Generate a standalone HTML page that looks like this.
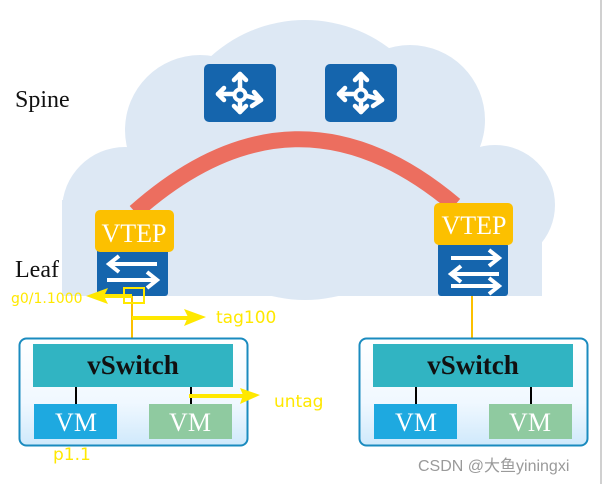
<!DOCTYPE html>
<html><head><meta charset="utf-8"><style>
html,body{margin:0;padding:0;background:#fff;}
svg{display:block}
.s{font-family:"Liberation Serif",serif}
.y{font-family:"DejaVu Sans","Liberation Sans",sans-serif;fill:#ffe800}
</style></head><body>
<svg width="609" height="484" viewBox="0 0 609 484" xmlns="http://www.w3.org/2000/svg">
<defs>
<linearGradient id="g" x1="0" y1="0" x2="0" y2="1"><stop offset="0" stop-color="#ffffff"/><stop offset="0.6" stop-color="#f0f8ff"/><stop offset="1" stop-color="#cfe9fb"/></linearGradient>
<g id="router"><rect x="0" y="0" width="72" height="58" rx="5" fill="#1565ad"/>
<g stroke="#fff" stroke-width="4.5" fill="none" stroke-linecap="round" stroke-linejoin="round">
<path d="M36 10 V48"/><polyline points="30,16 36,10 42,16"/><polyline points="30,42 36,48 42,42"/>
<path d="M14 30 H36"/><polyline points="20,24 14,30 20,36"/>
<path d="M36 30 L57 36"/><polyline points="50,28 57,36 48,42"/>
</g><circle cx="36" cy="31" r="5.5" fill="#1565ad" stroke="#fff" stroke-width="4"/></g>
<g id="sw"><g stroke="#fff" stroke-width="4" fill="none"><path d="M10 12 H58 M48 4 l10 8 -10 8 M10 28 H58 M20 20 l-10 8 10 8 M10 40 H58 M48 32 l10 8 -10 8"/></g></g>
</defs>
<g fill="#dde8f4">
<circle cx="305" cy="160" r="140"/>
<circle cx="200" cy="130" r="75"/>
<circle cx="410" cy="120" r="75"/>
<circle cx="125" cy="210" r="63"/>
<circle cx="495" cy="205" r="60"/>
<rect x="62" y="200" width="480" height="96"/>
</g>
<path d="M135 212 Q295 70 455 205" fill="none" stroke="#ec6e5f" stroke-width="16"/>
<use href="#router" x="204" y="64"/>
<use href="#router" x="325" y="64"/>
<text x="15" y="107" class="s" font-size="24" fill="#111">Spine</text>
<text x="15" y="277" class="s" font-size="24" fill="#111">Leaf</text>
<rect x="97" y="248" width="71" height="48" rx="3" fill="#1565ad"/>
<g transform="translate(99,252)"><g stroke="#fff" stroke-width="4" fill="none"><path d="M10 12 H58 M20 4 l-10 8 10 8 M8 28 H58 M48 20 l10 8 -10 8"/></g></g>
<rect x="95" y="210" width="79" height="42" rx="5" fill="#fcc000"/>
<text x="134" y="242" class="s" font-size="26" fill="#fff" text-anchor="middle">VTEP</text>
<rect x="438" y="243" width="70" height="53" rx="3" fill="#1565ad"/>
<g transform="translate(441,246)"><use href="#sw"/></g>
<rect x="434" y="203" width="79" height="42" rx="5" fill="#fcc000"/>
<text x="474" y="234" class="s" font-size="26" fill="#fff" text-anchor="middle">VTEP</text>
<line x1="132" y1="296" x2="132" y2="338" stroke="#fcc000" stroke-width="2"/>
<line x1="472" y1="296" x2="472" y2="338" stroke="#fcc000" stroke-width="2"/>
<rect x="19.5" y="338.5" width="228" height="107" rx="7" fill="url(#g)" stroke="#1a8bbf" stroke-width="2"/>
<rect x="33" y="344" width="200" height="43" fill="#31b4c2"/>
<text x="133" y="374" class="s" font-size="27" font-weight="bold" fill="#111" text-anchor="middle">vSwitch</text>
<line x1="76" y1="387" x2="76" y2="404" stroke="#000" stroke-width="2"/>
<line x1="191" y1="387" x2="191" y2="404" stroke="#000" stroke-width="2"/>
<rect x="34" y="404" width="83" height="35" fill="#1ea9e0"/>
<rect x="149" y="404" width="83" height="35" fill="#8fcaa0"/>
<text x="76" y="431" class="s" font-size="26" fill="#fff" text-anchor="middle">VM</text>
<text x="190" y="431" class="s" font-size="26" fill="#fff" text-anchor="middle">VM</text>
<rect x="359.5" y="338.5" width="228" height="107" rx="7" fill="url(#g)" stroke="#1a8bbf" stroke-width="2"/>
<rect x="373" y="344" width="200" height="43" fill="#31b4c2"/>
<text x="473" y="374" class="s" font-size="27" font-weight="bold" fill="#111" text-anchor="middle">vSwitch</text>
<line x1="416" y1="387" x2="416" y2="404" stroke="#000" stroke-width="2"/>
<line x1="531" y1="387" x2="531" y2="404" stroke="#000" stroke-width="2"/>
<rect x="374" y="404" width="83" height="35" fill="#1ea9e0"/>
<rect x="489" y="404" width="83" height="35" fill="#8fcaa0"/>
<text x="416" y="431" class="s" font-size="26" fill="#fff" text-anchor="middle">VM</text>
<text x="530" y="431" class="s" font-size="26" fill="#fff" text-anchor="middle">VM</text>
<rect x="124" y="288" width="20" height="15" fill="none" stroke="#ffe800" stroke-width="2"/>
<g stroke="#ffe800" stroke-width="4" fill="#ffe800">
<line x1="132" y1="296" x2="100" y2="296"/><path d="M86 296 L108 288 L104 296 L108 304 Z" stroke="none"/>
<line x1="132" y1="318" x2="190" y2="318"/><path d="M206 317 L184 309 L188 317 L184 326 Z" stroke="none"/>
<line x1="189" y1="396" x2="245" y2="396"/><path d="M260 395 L240 388 L243 395 L240 404 Z" stroke="none"/>
</g>
<text x="11" y="303" class="y" font-size="14">g0/1.1000</text>
<text x="216" y="323" class="y" font-size="17">tag100</text>
<text x="274" y="407" class="y" font-size="17">untag</text>
<text x="53" y="460" class="y" font-size="17">p1.1</text>
<text x="418" y="471" font-family="'Liberation Sans','Noto Sans CJK SC',sans-serif" font-size="16" fill="#9a9a9a">CSDN @大鱼yiningxi</text>
<line x1="601" y1="0" x2="601" y2="484" stroke="#d0d0d0" stroke-width="2"/>
</svg>
</body></html>
